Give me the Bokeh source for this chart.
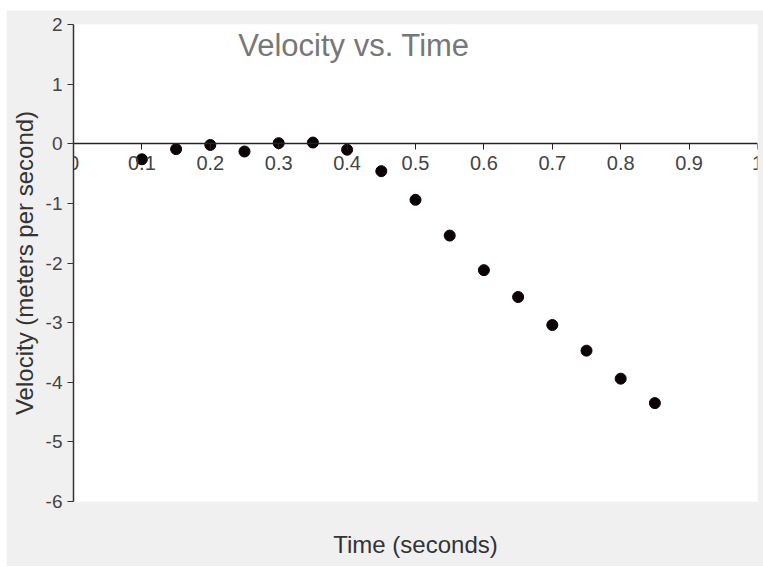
from bokeh.plotting import figure
from bokeh.models import Range1d, FixedTicker, Label, Spacer, LinearAxis
from bokeh.layouts import column, row
from bokeh.embed import file_html
from bokeh.resources import INLINE

# data
time_s = [0.10, 0.15, 0.20, 0.25, 0.30, 0.35, 0.40, 0.45, 0.50, 0.55, 0.60, 0.65, 0.70, 0.75, 0.80, 0.85]
velocity = [-0.26, -0.09, -0.02, -0.13, 0.01, 0.02, -0.10, -0.46, -0.94, -1.54, -2.12, -2.57, -3.04, -3.47, -3.94, -4.35]

x_ticks = [0, 0.1, 0.2, 0.3, 0.4, 0.5, 0.6, 0.7, 0.8, 0.9, 1]
x_tick_labels = ["0", "0.1", "0.2", "0.3", "0.4", "0.5", "0.6", "0.7", "0.8", "0.9", "1"]
y_ticks = [-6, -5, -4, -3, -2, -1, 0, 1, 2]
y_tick_labels = ["-6", "-5", "-4", "-3", "-2", "-1", "0", "1", "2"]

title_text = "Velocity vs. Time"
x_label = "Time (seconds)"
y_label = "Velocity (meters per second)"

FONT = "Liberation Sans"

p = figure(width=757, height=556, output_backend="svg", toolbar_location=None,
           x_range=Range1d(0, 1), y_range=Range1d(-6, 2),
           min_border_left=67, min_border_right=6, min_border_top=14, min_border_bottom=65)
p.background_fill_color = "white"
p.border_fill_color = "#f0f0f0"
p.outline_line_color = None
p.grid.visible = False

# x axis crossing at zero
xa = p.xaxis[0]
xa.fixed_location = 0
xa.ticker = FixedTicker(ticks=x_ticks)
xa.major_label_overrides = {t: l for t, l in zip(x_ticks, x_tick_labels)}
xa.minor_tick_line_color = None
xa.major_tick_in = 0
xa.major_tick_out = 6
xa.major_label_standoff = 6
xa.axis_line_color = "#2a2020"
xa.axis_line_width = 1.5
xa.major_tick_line_color = "#2a2020"
xa.major_label_text_font = FONT
xa.major_label_text_font_size = "20px"
xa.major_label_text_color = "#444444"

# separate bare axis carrying only the x axis title at the bottom
xlab = LinearAxis(axis_label=x_label, axis_line_color=None,
                  major_tick_line_color=None, minor_tick_line_color=None,
                  major_tick_in=0, major_tick_out=0, major_label_standoff=0,
                  major_label_text_font_size="0px", major_label_text_color=None,
                  axis_label_standoff=29, axis_label_text_font=FONT,
                  axis_label_text_font_size="24px", axis_label_text_font_style="normal",
                  axis_label_text_color="#333333", ticker=FixedTicker(ticks=[]))
p.add_layout(xlab, "below")

ya = p.yaxis[0]
ya.ticker = FixedTicker(ticks=y_ticks)
ya.major_label_overrides = {t: l for t, l in zip(y_ticks, y_tick_labels)}
ya.minor_tick_line_color = None
ya.major_tick_in = 0
ya.major_tick_out = 6
ya.major_label_standoff = 5
ya.axis_line_color = "#3a3030"
ya.axis_line_width = 1.5
ya.major_tick_line_color = "#3a3030"
ya.major_label_text_font = FONT
ya.major_label_text_font_size = "19px"
ya.major_label_text_color = "#444444"
ya.axis_label = y_label
ya.axis_label_text_font = FONT
ya.axis_label_text_font_size = "24px"
ya.axis_label_text_font_style = "normal"
ya.axis_label_text_color = "#333333"
ya.axis_label_standoff = 5

p.scatter(time_s, velocity, size=11, fill_color="#0a0203", line_color="#0a0203")

# chart title inside the plot area
p.add_layout(Label(x=0.41, y=1.65, text=title_text, text_align="center",
                   text_baseline="middle", text_font=FONT, text_font_size="31px",
                   text_color="#777777"))

layout = column(Spacer(height=10), row(Spacer(width=6), p))
open("out.html", "w").write(file_html(layout, INLINE))
